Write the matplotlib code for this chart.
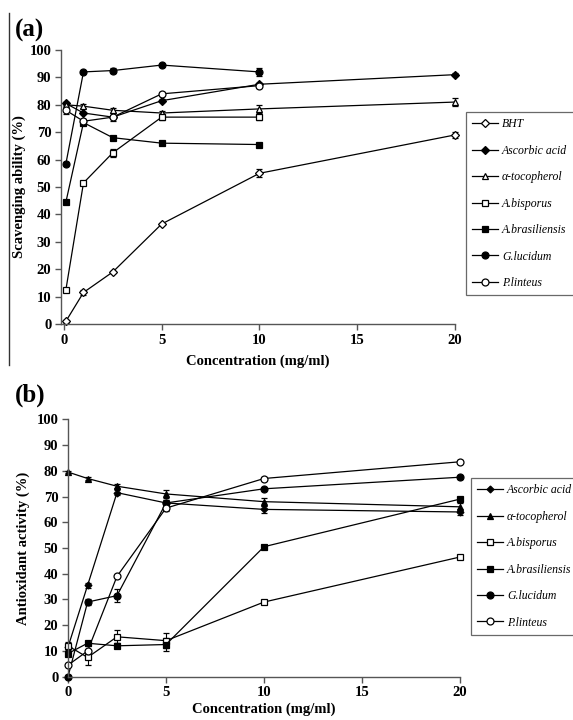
import numpy as np
import matplotlib
matplotlib.use('Agg')
import matplotlib.pyplot as plt
from matplotlib.lines import Line2D

plt.rcParams['font.family'] = ['Liberation Serif', 'DejaVu Serif']

# ---- panel (a): scavenging ability ----
conc_a = [0.1, 1, 2.5, 5, 10, 20]
bht_a = [1, 11.5, 19, 36.5, 55, 69]
ascorbic_a = [80.5, 77, 75.5, 81.5, 87.5, 91]
tocopherol_a = [80, 79.5, 78, 77, 78.5, 81]
bisporus_a = [12.5, 51.5, 62.5, 75.5, 75.5]
brasil_a = [44.5, 73.5, 68, 66, 65.5]
lucidum_a = [58.5, 92, 92.5, 94.5, 92]
linteus_a = [78, 74, 75.5, 84, 87]
err_bht_a = [0.5, 0.8, 0.5, 0.5, 1.5, 1]
err_toc_a = [1, 0.8, 1, 0.8, 1.5, 1.5]
err_bis_a = [0.5, 0.5, 1.5, 1, 1]
err_luc_a = [0.5, 0.5, 0.8, 0.5, 1.5]
err_lin_a = [1.5, 0.8, 1.5, 0.8, 0.8]

# ---- panel (b): antioxidant activity ----
conc_b = [0, 1, 2.5, 5, 10, 20]
ascorbic_b = [11.5, 35.5, 71.5, 67.5, 65, 64]
tocopherol_b = [79.5, 77, 74, 71, 68, 66]
bisporus_b = [12, 7.5, 15.5, 14, 29, 46.5]
brasil_b = [9, 13, 12, 12.5, 50.5, 69]
lucidum_b = [0, 29, 31.5, 67.5, 73, 77.5]
linteus_b = [4.5, 10, 39, 65.5, 77, 83.5]
err_asc_b = [0.5, 1, 1, 1, 1.5, 1]
err_toc_b = [0.5, 0.5, 0.8, 1.5, 1.5, 1.5]
err_bis_b = [1.5, 3, 2.5, 3, 0.5, 0.5]
err_bra_b = [1, 1, 1, 2.5, 0.5, 0.5]
err_luc_b = [0.5, 1, 2.5, 1, 0.5, 0.5]
err_lin_b = [0.5, 0.5, 0.5, 1, 0.5, 0.5]

fig = plt.figure(figsize=(5.73, 7.2), dpi=100)
ax1 = fig.add_axes([61/573, 1-324/720, 394/573, 274/720])
ax2 = fig.add_axes([68/573, 1-676.7/720, 392/573, 257.4/720])


def series(ax, x, y, err, marker, filled, label, ms=5):
    n = len(y)
    c = ax.errorbar(x[:n], y, yerr=err, color='black', lw=0.9, elinewidth=0.8, capsize=2.5,
                    marker=marker, ms=ms, mec='black', mew=0.9,
                    mfc='black' if filled else 'white', label=label)
    for art in c.get_children():
        art.set_clip_on(False)


series(ax1, conc_a, bht_a, err_bht_a, 'D', False, 'BHT', 4.5)
series(ax1, conc_a, ascorbic_a, [0.5] * 6, 'D', True, 'Ascorbic acid', 4.5)
series(ax1, conc_a, tocopherol_a, err_toc_a, '^', False, 'α-tocopherol')
series(ax1, conc_a, bisporus_a, err_bis_a, 's', False, 'A.bisporus')
series(ax1, conc_a, brasil_a, [0.5] * 5, 's', True, 'A.brasiliensis')
series(ax1, conc_a, lucidum_a, err_luc_a, 'o', True, 'G.lucidum')
series(ax1, conc_a, linteus_a, err_lin_a, 'o', False, 'P.linteus')

series(ax2, conc_b, ascorbic_b, err_asc_b, 'D', True, 'Ascorbic acid', 3.5)
series(ax2, conc_b, tocopherol_b, err_toc_b, '^', True, 'α-tocopherol')
series(ax2, conc_b, bisporus_b, err_bis_b, 's', False, 'A.bisporus')
series(ax2, conc_b, brasil_b, err_bra_b, 's', True, 'A.brasiliensis')
series(ax2, conc_b, lucidum_b, err_luc_b, 'o', True, 'G.lucidum')
series(ax2, conc_b, linteus_b, err_lin_b, 'o', False, 'P.linteus')

for ax, left in [(ax1, -0.15), (ax2, 0)]:
    ax.set_xlim(left, 20)
    ax.set_ylim(0, 100)
    ax.set_xticks([0, 5, 10, 15, 20])
    ax.set_yticks(range(0, 101, 10))
    for s in ['top', 'right']:
        ax.spines[s].set_visible(False)
    for s in ['left', 'bottom']:
        ax.spines[s].set_color('#555555')
        ax.spines[s].set_linewidth(1)
    ax.tick_params(direction='out', length=4, width=1, color='#555555', labelsize=10.5, pad=3)
    for t in ax.get_xticklabels() + ax.get_yticklabels():
        t.set_fontweight('bold')
    ax.set_xlabel('Concentration (mg/ml)', fontsize=10.5, fontweight='bold')
    ax.patch.set_alpha(0)

ax1.set_ylabel('Scavenging ability (%)', fontsize=10.5, fontweight='bold')
ax2.set_ylabel('Antioxidant activity (%)', fontsize=10.5, fontweight='bold')
ax1.yaxis.set_label_coords(-0.088, 0.5)
ax2.yaxis.set_label_coords(-0.098, 0.5)
ax1.xaxis.set_label_coords(0.5, -0.11)
ax2.xaxis.set_label_coords(0.5, -0.1)

fig.text(15/573, 1-30/720, '(a)', fontsize=18, fontweight='bold', va='center')
fig.text(15/573, 1-395/720, '(b)', fontsize=18, fontweight='bold', va='center')

# thin page border line on the left of panel (a)
fig.add_artist(Line2D([9/573, 9/573], [1-13/720, 1-365/720], color='#333333', lw=1))

for ax, top, bottom in [(ax1, 112, 294), (ax2, 478, 636)]:
    handles, labels = ax.get_legend_handles_labels()
    handles = [h[0] for h in handles]
    leg = ax.legend(handles, labels, loc='upper left',
                    bbox_to_anchor=(466/573 if ax is ax1 else 471/573, 1-top/720),
                    bbox_transform=fig.transFigure,
                    prop={'style': 'italic', 'size': 8.5}, frameon=True, fancybox=False,
                    edgecolor='#444444', handlelength=2.2, handletextpad=0.3,
                    labelspacing=1.22, borderpad=0.55, borderaxespad=0)
    leg.get_frame().set_linewidth(0.9)

fig.savefig('out.png', dpi=100)
